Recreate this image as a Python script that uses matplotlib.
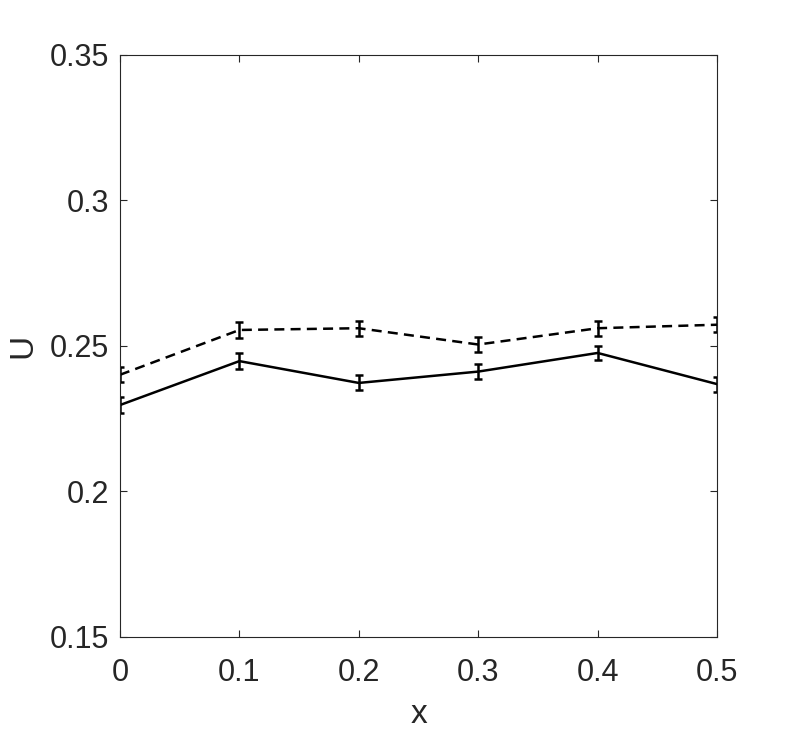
import numpy as np
import matplotlib.pyplot as plt

plt.rcParams['font.family'] = ['Liberation Sans', 'DejaVu Sans']

x = [0, 0.1, 0.2, 0.3, 0.4, 0.5]
u_solid = [0.2297, 0.2448, 0.2373, 0.2412, 0.2476, 0.2369]
err_solid = [0.0027, 0.0027, 0.0026, 0.0025, 0.0024, 0.0026]
u_dashed = [0.2401, 0.2555, 0.2561, 0.2505, 0.2561, 0.2573]
err_dashed = [0.0026, 0.0026, 0.0026, 0.0026, 0.0026, 0.0026]

xticks = [0, 0.1, 0.2, 0.3, 0.4, 0.5]
yticks = [0.15, 0.2, 0.25, 0.3, 0.35]
ytick_labels = ['0.15', '0.2', '0.25', '0.3', '0.35']

dark = '#262626'

fig = plt.figure(figsize=(7.93, 7.33), dpi=100)
ax = fig.add_axes([0.1513, 0.131, 0.7529, 0.794])

ax.errorbar(x, u_dashed, yerr=err_dashed, color='k', lw=1.8,
            linestyle=(0, (4, 2.5)), capsize=3, capthick=1.8, elinewidth=1.8)
ax.errorbar(x, u_solid, yerr=err_solid, color='k', lw=1.8,
            capsize=3, capthick=1.8, elinewidth=1.8)

ax.set_xlim(0, 0.5)
ax.set_ylim(0.15, 0.35)
ax.set_xticks(xticks)
ax.set_xticklabels([f'{t:g}' for t in xticks])
ax.set_yticks(yticks)
ax.set_yticklabels(ytick_labels)
ax.tick_params(direction='in', length=5, width=0.8, top=True, right=True,
               labelsize=22, colors=dark)
ax.tick_params(axis='x', pad=15)
ax.tick_params(axis='y', pad=8)
for s in ax.spines.values():
    s.set_linewidth(0.8)
    s.set_color(dark)

ax.set_xlabel('x', fontsize=24, color=dark, labelpad=8)
ax.set_ylabel('U', fontsize=24, color=dark, labelpad=8)

fig.savefig('out.png', dpi=100)
